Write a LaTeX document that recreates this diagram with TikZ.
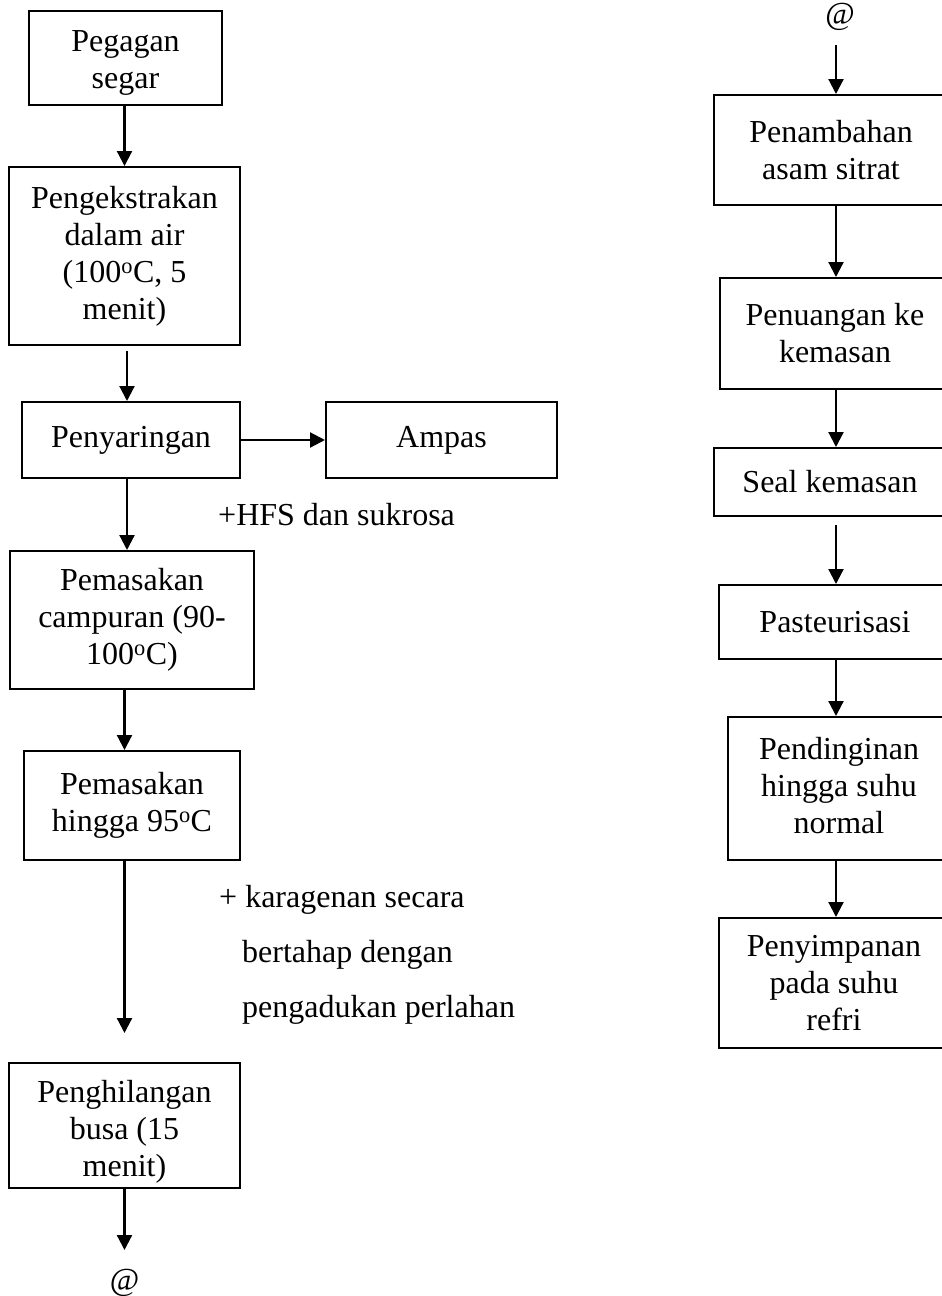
\documentclass[tikz,border=0pt]{standalone}
\usepackage{fontspec}
\setmainfont{Liberation Serif}
\usetikzlibrary{arrows.meta}
\begin{document}
\begin{tikzpicture}[x=1pt,y=-1pt,
  pbox/.style={draw=black,line width=2pt,inner sep=0pt,align=center,font=\fontsize{32}{37}\selectfont},
  txt/.style={inner sep=0pt,align=center,font=\fontsize{32}{37}\selectfont},
  lbl/.style={inner sep=0pt,font=\fontsize{32}{37}\selectfont},
  arr/.style={line width=2.2pt,-{Triangle[width=15pt,length=15pt]}}]
\useasboundingbox (0,0) rectangle (942,1296);
\begin{scope}
\clip (0,0) rectangle (942,1296);
% left column
\node[pbox,minimum width=193pt,minimum height=94pt] (peg) at (125.5,58) {};
\node[txt] (pegt) at ([yshift=-5pt]peg.center) {Pegagan\\segar};
\node[pbox,minimum width=231pt,minimum height=178pt] (ext) at (124.5,256) {Pengekstrakan\\dalam air\\(100\textsuperscript{o}C, 5\\menit)};
\node[pbox,minimum width=218pt,minimum height=76pt] (sar) at (131,440) {Penyaringan};
\node[pbox,minimum width=231pt,minimum height=76pt] (amp) at (441.5,440) {Ampas};
\node[pbox,minimum width=244pt,minimum height=138pt] (cam) at (132,620) {Pemasakan\\campuran (90-\\100\textsuperscript{o}C)};
\node[pbox,minimum width=216pt,minimum height=109pt] (hin) at (132,805.5) {Pemasakan\\hingga 95\textsuperscript{o}C};
\node[pbox,minimum width=231pt,minimum height=125pt] (hil) at (124.5,1125.5) {};
\node[txt] (hilt) at ([yshift=-6pt]hil.center) {Penghilangan\\busa (15\\menit)};
\node[lbl] (atL) at (124.5,1283) {@};
\node[lbl,anchor=west] (hfs) at (218,515) {+HFS dan sukrosa};
\node[lbl,anchor=west] (kar1) at (219,900) {+ karagenan secara};
\node[lbl,anchor=west] (kar2) at (242,955) {bertahap dengan};
\node[lbl,anchor=west] (kar3) at (242,1010) {pengadukan perlahan};
\coordinate (lc) at (124.5,0);
\coordinate (lc2) at (127,0);
\coordinate (e5) at (124.5,1033);
\coordinate (e6) at (124.5,1250);
\draw[arr] (lc |- peg.south) -- (lc |- ext.north);
\draw[arr] ([yshift=-5pt]lc2 |- ext.south) -- (lc2 |- sar.north);
\draw[arr] (lc2 |- sar.south) -- (lc2 |- cam.north);
\draw[arr] (sar.east) -- (amp.west);
\draw[arr] (lc |- cam.south) -- (lc |- hin.north);
\draw[arr] (lc |- hin.south) -- (e5);
\draw[arr] (hil.south) -- (e6);
% right column
\node[lbl] (atR) at (840,17) {@};
\node[pbox,minimum width=234pt,minimum height=110pt] (r1) at (831,150) {Penambahan\\asam sitrat};
\node[pbox,minimum width=230pt,minimum height=111pt] (r2) at (835,333.5) {Penuangan ke\\kemasan};
\node[pbox,minimum width=232pt,minimum height=68pt] (r3) at (830,482) {Seal kemasan};
\node[pbox,minimum width=232pt,minimum height=74pt] (r4) at (835,622) {Pasteurisasi};
\node[pbox,minimum width=222pt,minimum height=143pt] (r5) at (839,788.5) {};
\node[txt] (r5t) at ([yshift=3pt]r5.center) {Pendinginan\\hingga suhu\\normal};
\node[pbox,minimum width=230pt,minimum height=130pt] (r6) at (834,983) {Penyimpanan\\pada suhu\\refri};
\coordinate (rc) at (836,0);
\coordinate (s0) at (836,45);
\draw[arr] (s0) -- (rc |- r1.north);
\draw[arr] (rc |- r1.south) -- (rc |- r2.north);
\draw[arr] (rc |- r2.south) -- (rc |- r3.north);
\draw[arr] ([yshift=-8pt]rc |- r3.south) -- (rc |- r4.north);
\draw[arr] (rc |- r4.south) -- (rc |- r5.north);
\draw[arr] (rc |- r5.south) -- (rc |- r6.north);
\end{scope}
\end{tikzpicture}
\end{document}
